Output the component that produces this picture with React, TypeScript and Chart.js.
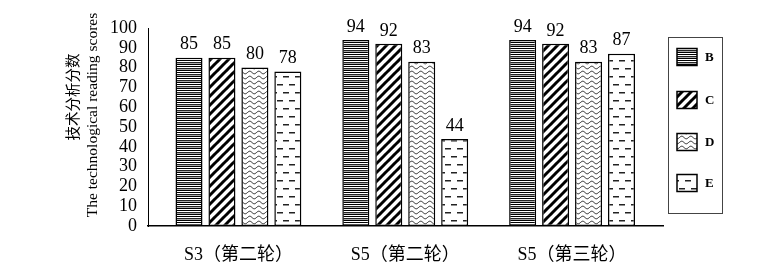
import React, { useEffect, useRef } from 'react';
import { Chart, registerables } from 'chart.js';

Chart.register(...registerables);

const categories = ['S3（第二轮）', 'S5（第二轮）', 'S5（第三轮）'];
const seriesNames = ['B', 'C', 'D', 'E'];
const seriesB = [85, 94, 94];
const seriesC = [85, 92, 92];
const seriesD = [80, 83, 83];
const seriesE = [78, 44, 87];
const yMin = 0;
const yMax = 100;
const yStep = 10;
const yTitleEn = 'The technological reading scores';
const yTitleZh = '技术分析分数';

const serif = '"Liberation Serif", "Times New Roman", "Noto Sans CJK SC", serif';

function makeTile(kind: string): HTMLCanvasElement {
  const c = document.createElement('canvas');
  if (kind === 'B') {
    c.width = 4; c.height = 6;
    const g = c.getContext('2d')!;
    const rows = ['#000', '#fff', '#222', '#aaa', '#000', '#fff'];
    rows.forEach((col, i) => { g.fillStyle = col; g.fillRect(0, i, 4, 1); });
  } else if (kind === 'C') {
    c.width = 9; c.height = 9;
    const g = c.getContext('2d')!;
    g.fillStyle = '#fff'; g.fillRect(0, 0, 9, 9);
    g.strokeStyle = '#000'; g.lineWidth = 3;
    for (const o of [-9, 0, 9]) {
      g.beginPath(); g.moveTo(o - 1, 10); g.lineTo(o + 10, -1); g.stroke();
    }
  } else if (kind === 'D') {
    c.width = 9; c.height = 5;
    const g = c.getContext('2d')!;
    g.fillStyle = '#fff'; g.fillRect(0, 0, 9, 5);
    g.strokeStyle = '#222'; g.lineWidth = 1;
    for (const off of [-5, 0, 5]) {
      g.beginPath();
      for (let x = -0.5; x <= 9.5; x += 0.5) {
        const y = off + 2.5 + 1.3 * Math.sin((2 * Math.PI * x) / 9);
        if (x === -0.5) g.moveTo(x, y); else g.lineTo(x, y);
      }
      g.stroke();
    }
  } else {
    c.width = 12; c.height = 16;
    const g = c.getContext('2d')!;
    g.fillStyle = '#fff'; g.fillRect(0, 0, 12, 16);
    g.fillStyle = '#222';
    g.fillRect(1, 4, 6, 1.5);
    g.fillRect(7, 12, 5, 1.5);
    g.fillRect(0, 12, 1, 1.5);
  }
  return c;
}

export default function App() {
  const ref = useRef<HTMLCanvasElement>(null);
  useEffect(() => {
    const canvas = ref.current!;
    const ctx = canvas.getContext('2d')!;
    const pats: Record<string, CanvasPattern> = {};
    seriesNames.forEach((n) => { pats[n] = ctx.createPattern(makeTile(n), 'repeat')!; });
    const seriesValues = [seriesB, seriesC, seriesD, seriesE];

    const datasets = seriesNames.map((name, i) => ({
      label: name,
      data: seriesValues[i].map((v, j) => ({ x: j, y: v })),
      backgroundColor: pats[name],
      borderColor: '#000',
      borderWidth: 1.5,
      borderSkipped: false as any,
      categoryPercentage: 0.79,
      barPercentage: 0.82,
    }));

    const custom = {
      id: 'custom',
      afterDatasetsDraw(chart: any) {
        const c: CanvasRenderingContext2D = chart.ctx;
        c.save();
        c.font = `18px ${serif}`;
        c.fillStyle = '#000';
        c.textAlign = 'center';
        c.textBaseline = 'bottom';
        chart.data.datasets.forEach((ds: any, i: number) => {
          const meta = chart.getDatasetMeta(i);
          meta.data.forEach((el: any, j: number) => {
            c.fillText(String(seriesValues[i][j]), el.x, el.y - 4);
          });
        });
        // axis titles
        c.save();
        c.translate(93, 115);
        c.rotate(-Math.PI / 2);
        c.font = `15.5px ${serif}`;
        c.textBaseline = 'middle';
        c.textAlign = 'center';
        c.fillText(yTitleEn, 0, 0);
        c.restore();
        c.save();
        c.translate(74, 97);
        c.rotate(-Math.PI / 2);
        c.font = `14.5px ${serif}`;
        c.textBaseline = 'middle';
        c.textAlign = 'center';
        c.fillText(yTitleZh, 0, 0);
        c.restore();
        // legend
        c.strokeStyle = '#444';
        c.lineWidth = 1;
        c.strokeRect(668.5, 37.5, 54, 176);
        const ys = [57, 100, 142, 183];
        seriesNames.forEach((n, i) => {
          c.fillStyle = pats[n];
          c.fillRect(677, ys[i] - 8.5, 20, 17);
          c.strokeStyle = '#000';
          c.lineWidth = 1.5;
          c.strokeRect(677, ys[i] - 8.5, 20, 17);
          c.fillStyle = '#000';
          c.font = `bold 13px ${serif}`;
          c.textAlign = 'left';
          c.textBaseline = 'middle';
          c.fillText(chart.data.datasets[i].label, 705, ys[i] + 1);
        });
        c.restore();
      },
    };

    const chart = new Chart(canvas, {
      type: 'bar',
      data: { datasets: datasets as any },
      options: {
        animation: false,
        responsive: true,
        maintainAspectRatio: false,
        layout: { padding: { top: 28, right: 114, left: 0, bottom: 0 } },
        plugins: { legend: { display: false }, tooltip: { enabled: false } },
        scales: {
          x: {
            type: 'linear',
            min: -0.542,
            max: 2.545,
            offset: false,
            grid: { display: false, drawTicks: false },
            border: { display: true, color: '#000', width: 1.5 },
            afterBuildTicks: (s: any) => { s.ticks = categories.map((_, i) => ({ value: i })); },
            afterFit: (s: any) => { s.height = 42; },
            ticks: {
              autoSkip: false,
              maxRotation: 0,
              padding: 18,
              color: '#000',
              font: { size: 18, family: serif },
              callback: (v: any) => categories[v] ?? '',
            },
          },
          y: {
            min: yMin,
            max: yMax,
            grid: { display: false, drawTicks: false },
            border: { display: true, color: '#000', width: 1 },
            afterFit: (s: any) => { s.width = 148; },
            ticks: {
              stepSize: yStep,
              autoSkip: false,
              padding: 11,
              color: '#000',
              font: { size: 18, family: serif },
            },
          },
        },
      },
      plugins: [custom],
    });
    return () => chart.destroy();
  }, []);

  return (
    <div style={{ position: 'fixed', left: 0, top: 0, width: 777, height: 268, background: '#fff' }}>
      <canvas ref={ref} />
    </div>
  );
}
